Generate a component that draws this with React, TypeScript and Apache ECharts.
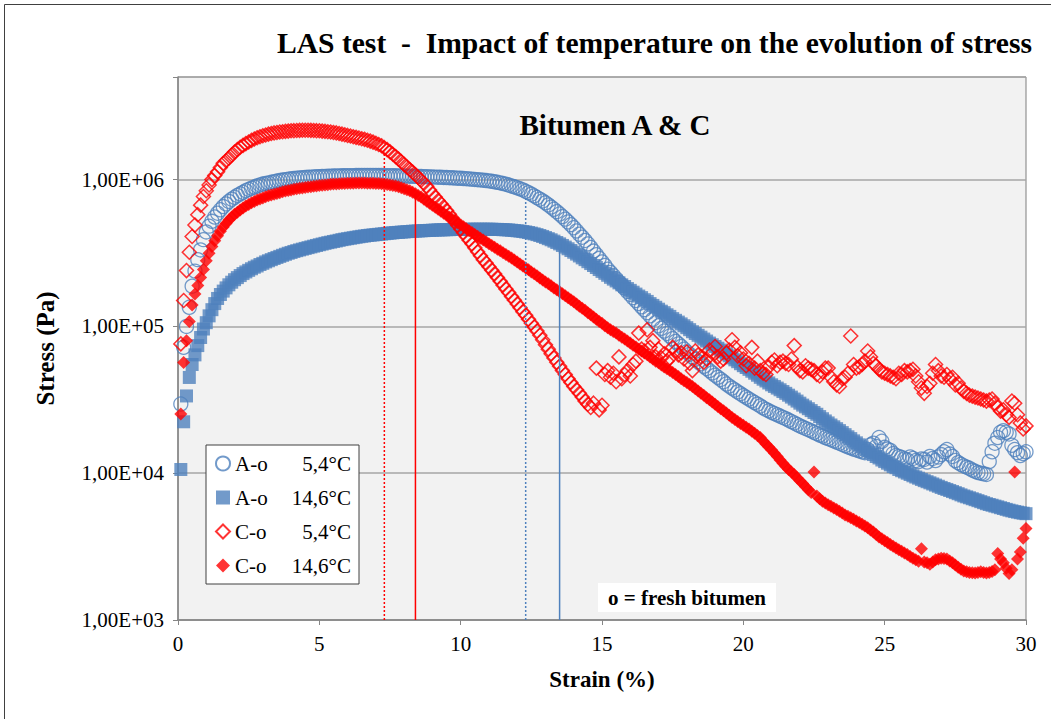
import React, { useEffect, useRef } from "react";
import * as echarts from "echarts";

const FONT = "Liberation Serif";
const BLUE = "#4f81bd";
const RED = "#ff0000";

// strain (%), 0.1 .. 30.0 — one row per unit of strain
const strain = [
  0.1, 0.2, 0.3, 0.4, 0.5, 0.6, 0.7, 0.8, 0.9, 1.0,
  1.1, 1.2, 1.3, 1.4, 1.5, 1.6, 1.7, 1.8, 1.9, 2.0,
  2.1, 2.2, 2.3, 2.4, 2.5, 2.6, 2.7, 2.8, 2.9, 3.0,
  3.1, 3.2, 3.3, 3.4, 3.5, 3.6, 3.7, 3.8, 3.9, 4.0,
  4.1, 4.2, 4.3, 4.4, 4.5, 4.6, 4.7, 4.8, 4.9, 5.0,
  5.1, 5.2, 5.3, 5.4, 5.5, 5.6, 5.7, 5.8, 5.9, 6.0,
  6.1, 6.2, 6.3, 6.4, 6.5, 6.6, 6.7, 6.8, 6.9, 7.0,
  7.1, 7.2, 7.3, 7.4, 7.5, 7.6, 7.7, 7.8, 7.9, 8.0,
  8.1, 8.2, 8.3, 8.4, 8.5, 8.6, 8.7, 8.8, 8.9, 9.0,
  9.1, 9.2, 9.3, 9.4, 9.5, 9.6, 9.7, 9.8, 9.9, 10.0,
  10.1, 10.2, 10.3, 10.4, 10.5, 10.6, 10.7, 10.8, 10.9, 11.0,
  11.1, 11.2, 11.3, 11.4, 11.5, 11.6, 11.7, 11.8, 11.9, 12.0,
  12.1, 12.2, 12.3, 12.4, 12.5, 12.6, 12.7, 12.8, 12.9, 13.0,
  13.1, 13.2, 13.3, 13.4, 13.5, 13.6, 13.7, 13.8, 13.9, 14.0,
  14.1, 14.2, 14.3, 14.4, 14.5, 14.6, 14.7, 14.8, 14.9, 15.0,
  15.1, 15.2, 15.3, 15.4, 15.5, 15.6, 15.7, 15.8, 15.9, 16.0,
  16.1, 16.2, 16.3, 16.4, 16.5, 16.6, 16.7, 16.8, 16.9, 17.0,
  17.1, 17.2, 17.3, 17.4, 17.5, 17.6, 17.7, 17.8, 17.9, 18.0,
  18.1, 18.2, 18.3, 18.4, 18.5, 18.6, 18.7, 18.8, 18.9, 19.0,
  19.1, 19.2, 19.3, 19.4, 19.5, 19.6, 19.7, 19.8, 19.9, 20.0,
  20.1, 20.2, 20.3, 20.4, 20.5, 20.6, 20.7, 20.8, 20.9, 21.0,
  21.1, 21.2, 21.3, 21.4, 21.5, 21.6, 21.7, 21.8, 21.9, 22.0,
  22.1, 22.2, 22.3, 22.4, 22.5, 22.6, 22.7, 22.8, 22.9, 23.0,
  23.1, 23.2, 23.3, 23.4, 23.5, 23.6, 23.7, 23.8, 23.9, 24.0,
  24.1, 24.2, 24.3, 24.4, 24.5, 24.6, 24.7, 24.8, 24.9, 25.0,
  25.1, 25.2, 25.3, 25.4, 25.5, 25.6, 25.7, 25.8, 25.9, 26.0,
  26.1, 26.2, 26.3, 26.4, 26.5, 26.6, 26.7, 26.8, 26.9, 27.0,
  27.1, 27.2, 27.3, 27.4, 27.5, 27.6, 27.7, 27.8, 27.9, 28.0,
  28.1, 28.2, 28.3, 28.4, 28.5, 28.6, 28.7, 28.8, 28.9, 29.0,
  29.1, 29.2, 29.3, 29.4, 29.5, 29.6, 29.7, 29.8, 29.9, 30.0,
];

// A-o 5,4°C (Pa)
const stressA54 = [
  29600, 72000, 100000, 135000, 188000, 238000, 285000, 332000, 390000, 440000,
  482000, 520000, 556000, 590000, 623000, 655000, 683000, 710000, 735000, 758000,
  780000, 800000, 820000, 840000, 858000, 875000, 890000, 905000, 919000, 932000,
  941000, 950000, 959000, 968000, 977000, 985000, 993000, 1000000, 1006000, 1012000,
  1017000, 1022000, 1026000, 1030000, 1034000, 1037000, 1040000, 1043000, 1046000, 1048000,
  1050000, 1052000, 1054000, 1056000, 1058000, 1059000, 1060000, 1061000, 1062000, 1063000,
  1064000, 1064000, 1065000, 1065000, 1066000, 1066000, 1066000, 1066000, 1066000, 1066000,
  1065000, 1065000, 1064000, 1064000, 1063000, 1062000, 1061000, 1060000, 1059000, 1058000,
  1056000, 1055000, 1053000, 1052000, 1050000, 1049000, 1047000, 1046000, 1044000, 1042000,
  1040000, 1038000, 1036000, 1034000, 1032000, 1030000, 1028000, 1025000, 1022000, 1020000,
  1017000, 1014000, 1011000, 1007000, 1003000, 999000, 995000, 990000, 985000, 980000,
  973000, 966000, 958000, 950000, 940000, 930000, 918000, 905000, 893000, 880000,
  865000, 850000, 833000, 815000, 795000, 775000, 755000, 735000, 715000, 695000,
  672000, 650000, 628000, 605000, 583000, 560000, 538000, 515000, 493000, 470000,
  447000, 425000, 405000, 385000, 365000, 345000, 326000, 308000, 291000, 275000,
  260000, 245000, 233000, 222000, 211000, 200000, 191000, 182000, 173000, 165000,
  157000, 150000, 143000, 136000, 130000, 124000, 118000, 112000, 106000, 101000,
  97000, 93000, 89500, 86000, 82500, 79000, 76000, 73000, 70000, 67000,
  64500, 62000, 59700, 57500, 55500, 53500, 51700, 50000, 48200, 46500,
  45000, 43500, 42000, 40500, 39200, 38000, 36900, 35800, 34800, 33800,
  32900, 32000, 31100, 30300, 29500, 28700, 27900, 27200, 26600, 26000,
  25500, 25000, 24500, 24000, 23500, 23000, 22500, 22000, 21500, 21000,
  20600, 20200, 19800, 19400, 19000, 18600, 18200, 17900, 17500, 17200,
  16900, 16600, 16300, 16000, 15700, 15400, 15100, 14900, 14600, 14400,
  14200, 14000, 13800, 14500, 15600, 16000, 15200, 17500, 16500, 15000,
  14600, 14300, 13600, 13200, 13000, 12800, 12500, 12300, 12900, 12600,
  12200, 12000, 12500, 12400, 11900, 13000, 12600, 12200, 12900, 13400,
  14000, 14500, 13500, 13000, 12200, 11800, 11500, 11200, 11000, 10800,
  10500, 10300, 10100, 10000, 9900, 9800, 12000, 14000, 16000, 17500,
  19000, 19500, 19000, 18500, 15500, 14500, 13800, 13200, 13600, 14000,
];

// A-o 14,6°C (Pa)
const stressA146 = [
  10600, 22400, 33600, 44900, 55000, 64000, 74000, 84000, 96000, 106000,
  118000, 130000, 143000, 155000, 165000, 174000, 183000, 192000, 200000, 208000,
  215000, 222000, 229000, 235000, 241000, 247000, 253000, 258000, 264000, 269000,
  275000, 280000, 285000, 290000, 295000, 300000, 305000, 310000, 315000, 319000,
  324000, 328000, 332000, 336000, 340000, 344000, 348000, 352000, 356000, 360000,
  364000, 368000, 372000, 375000, 379000, 382000, 386000, 390000, 393000, 396000,
  399000, 402000, 405000, 408000, 411000, 413000, 416000, 418000, 420000, 422000,
  424000, 426000, 428000, 430000, 432000, 434000, 436000, 437000, 439000, 440000,
  442000, 443000, 445000, 446000, 447000, 448000, 449000, 450000, 451000, 452000,
  453000, 454000, 455000, 455000, 456000, 456000, 457000, 457000, 458000, 458000,
  458000, 458000, 459000, 459000, 459000, 459000, 459000, 459000, 459000, 459000,
  459000, 458000, 458000, 457000, 456000, 455000, 454000, 452000, 450000, 448000,
  446000, 443000, 440000, 436000, 432000, 427000, 422000, 416000, 410000, 403000,
  396000, 389000, 381000, 373000, 365000, 356000, 347000, 338000, 329000, 320000,
  311000, 302000, 293000, 285000, 276000, 268000, 260000, 252000, 244000, 237000,
  230000, 223000, 216000, 210000, 204000, 198000, 192000, 187000, 181000, 176000,
  171000, 166000, 161000, 157000, 152000, 148000, 143000, 139000, 135000, 131000,
  127000, 124000, 120000, 117000, 113000, 110000, 107000, 104000, 101000, 98000,
  95000, 92000, 89500, 87000, 84500, 82000, 79500, 77000, 75000, 73000,
  71000, 69000, 67000, 65000, 63000, 61000, 59200, 57500, 55700, 54000,
  52500, 51000, 49500, 48000, 46500, 45000, 43700, 42500, 41200, 40000,
  39000, 38000, 37000, 36000, 35000, 34000, 33000, 32000, 31000, 30000,
  29100, 28300, 27500, 26700, 25900, 25200, 24300, 23500, 22700, 22000,
  21300, 20700, 20100, 19500, 18900, 18300, 17700, 17200, 16600, 16100,
  15600, 15100, 14600, 14200, 13800, 13400, 13000, 12700, 12300, 12000,
  11700, 11400, 11100, 10900, 10600, 10400, 10200, 10000, 9800, 9600,
  9420, 9250, 9070, 8900, 8750, 8600, 8450, 8300, 8150, 8000,
  7870, 7750, 7620, 7500, 7370, 7250, 7120, 7000, 6900, 6800,
  6700, 6600, 6500, 6400, 6300, 6200, 6120, 6050, 5970, 5900,
  5820, 5750, 5670, 5600, 5540, 5480, 5430, 5380, 5340, 5300,
];

// C-o 5,4°C (Pa)
const stressC54 = [
  76000, 150000, 240000, 320000, 410000, 490000, 577000, 670000, 768000, 840000,
  920000, 1000000, 1065000, 1130000, 1210000, 1290000, 1345000, 1400000, 1470000, 1540000,
  1600000, 1660000, 1710000, 1760000, 1805000, 1850000, 1890000, 1930000, 1960000, 1990000,
  2015000, 2040000, 2060000, 2080000, 2095000, 2110000, 2120000, 2130000, 2140000, 2150000,
  2155000, 2160000, 2165000, 2170000, 2170000, 2170000, 2165000, 2160000, 2155000, 2150000,
  2140000, 2130000, 2120000, 2110000, 2095000, 2080000, 2060000, 2040000, 2020000, 2000000,
  1980000, 1960000, 1940000, 1920000, 1900000, 1880000, 1855000, 1830000, 1800000, 1770000,
  1735000, 1700000, 1650000, 1600000, 1545000, 1490000, 1435000, 1380000, 1325000, 1270000,
  1220000, 1170000, 1125000, 1080000, 1035000, 990000, 945000, 900000, 850000, 800000,
  760000, 720000, 685000, 650000, 615000, 580000, 547000, 515000, 487000, 460000,
  435000, 410000, 387000, 365000, 343000, 322000, 303000, 285000, 270000, 255000,
  241000, 228000, 215000, 203000, 191000, 180000, 170000, 160000, 151000, 142000,
  134000, 126000, 119000, 112000, 105000, 99000, 93000, 87000, 81000, 75000,
  70000, 65000, 61000, 57000, 53500, 50000, 47000, 44000, 41500, 39000,
  37000, 35000, 33000, 31000, 29500, 28000, 30000, 52000, 27000, 29000,
  47000, 50000, 45000, 48000, 42000, 62000, 44000, 47000, 50000, 46000,
  55000, 58000, 90000, 70000, 68000, 95000, 72000, 80000, 62000, 70000,
  61000, 65000, 58000, 61000, 72000, 68000, 64000, 66000, 60000, 67000,
  56000, 50000, 68000, 64000, 62000, 57000, 60000, 69000, 66000, 73000,
  62000, 58000, 60000, 66000, 69000, 81000, 72000, 63000, 66000, 60000,
  54000, 56000, 72000, 52000, 58000, 50000, 48000, 47000, 53000, 57000,
  59000, 54000, 57000, 58000, 56000, 55000, 60000, 74000, 53000, 50000,
  49000, 54000, 52000, 51000, 50000, 47000, 46000, 49000, 52000, 52000,
  45000, 42000, 40000, 39000, 44000, 45000, 48000, 86000, 55000, 52000,
  53000, 55000, 58000, 68000, 62000, 56000, 54000, 51000, 49000, 48000,
  47000, 46000, 45000, 44000, 48000, 47000, 50000, 49000, 50000, 51000,
  46000, 42000, 38000, 35000, 39000, 41000, 48000, 55000, 50000, 46000,
  45000, 47000, 44000, 45000, 40000, 41000, 38000, 36000, 35000, 34000,
  33500, 33000, 32500, 32000, 31500, 31000, 31500, 32000, 30000, 28000,
  26500, 27000, 25000, 24000, 31000, 30000, 25000, 22000, 20000, 21000,
];

// C-o 14,6°C (Pa)
const stressC146 = [
  25300, 56800, 80000, 108000, 140000, 166000, 190000, 215000, 244000, 280000,
  315000, 350000, 383000, 415000, 445000, 475000, 503000, 530000, 555000, 580000,
  600000, 620000, 640000, 660000, 678000, 695000, 710000, 725000, 738000, 750000,
  763000, 775000, 785000, 795000, 805000, 815000, 825000, 835000, 843000, 850000,
  858000, 865000, 872000, 878000, 884000, 890000, 895000, 900000, 905000, 910000,
  915000, 920000, 924000, 928000, 932000, 935000, 938000, 940000, 942000, 944000,
  945000, 946000, 947000, 947000, 947000, 947000, 946000, 945000, 944000, 942000,
  939000, 936000, 931000, 926000, 919000, 912000, 903000, 893000, 881000, 868000,
  853000, 838000, 820000, 800000, 780000, 760000, 736000, 712000, 690000, 668000,
  648000, 628000, 609000, 590000, 572000, 555000, 538000, 522000, 507000, 492000,
  477000, 463000, 449000, 436000, 423000, 411000, 399000, 388000, 377000, 366000,
  356000, 346000, 336000, 327000, 318000, 309000, 300000, 292000, 283000, 275000,
  266000, 258000, 250000, 243000, 235000, 228000, 221000, 214000, 207000, 201000,
  195000, 189000, 183000, 178000, 172000, 167000, 162000, 157000, 152000, 147000,
  142000, 137000, 133000, 129000, 124000, 120000, 116000, 112000, 108000, 105000,
  101000, 98000, 95000, 92500, 90000, 87000, 84500, 82000, 79500, 77000,
  74500, 72400, 70000, 68000, 66000, 64000, 62000, 60000, 58000, 56500,
  54500, 53000, 51500, 50000, 48500, 47000, 45500, 44000, 42700, 41500,
  40200, 39000, 37600, 36300, 35100, 33900, 32700, 31600, 30500, 29500,
  28500, 27500, 26600, 25700, 24800, 24000, 23200, 22500, 21800, 21200,
  20600, 20000, 19300, 18700, 18100, 17500, 16600, 15800, 15100, 14400,
  13700, 13000, 12300, 11700, 11100, 10600, 10200, 9800, 9300, 8900,
  8500, 8100, 7700, 7400, 10200, 7000, 6700, 6450, 6270, 6100,
  5950, 5800, 5650, 5500, 5350, 5200, 5100, 4980, 4850, 4730,
  4610, 4490, 4370, 4250, 4110, 3980, 3820, 3670, 3570, 3470,
  3370, 3270, 3180, 3090, 3010, 2940, 2860, 2790, 2710, 2630,
  2570, 2510, 3060, 2480, 2450, 2400, 2480, 2570, 2600, 2630,
  2620, 2600, 2520, 2450, 2370, 2290, 2220, 2160, 2130, 2110,
  2100, 2090, 2110, 2130, 2110, 2090, 2110, 2140, 2200, 2840,
  2600, 2450, 2250, 2070, 2200, 10200, 2600, 2910, 3600, 4200,
];

const seriesNames = ["A-o 5,4°C", "A-o 14,6°C", "C-o 5,4°C", "C-o 14,6°C"];

// vertical marker lines (strain where each curve breaks down)
const peakStrain = [7.3, 8.4, 12.3, 13.5];
const peakStress = [1550000, 790000, 770000, 360000];
const peakColors = [RED, RED, BLUE, BLUE];
const peakDotted = [true, false, true, false];

const yMin = 1000;
const yMax = 5000000;

const rt = (size: number, bold = false) => ({
  fontFamily: FONT,
  fontSize: size,
  fontWeight: bold ? "bold" : "normal",
  color: "#000",
});

export default function App() {
  const ref = useRef<HTMLDivElement>(null);

  useEffect(() => {
    if (!ref.current) return;
    const chart = echarts.init(ref.current, null, { renderer: "svg" });
    const pair = (ys: number[]) => strain.map((x, i) => [x, ys[i]]);

    const scatter = [
      {
        name: seriesNames[0],
        type: "scatter",
        data: pair(stressA54),
        symbol: "circle",
        symbolSize: 14,
        itemStyle: { color: "rgba(255,255,255,0)", borderColor: BLUE, borderWidth: 1.3 },
        z: 2,
      },
      {
        name: seriesNames[1],
        type: "scatter",
        data: pair(stressA146),
        symbol: "rect",
        symbolSize: 13,
        itemStyle: { color: BLUE },
        z: 3,
      },
      {
        name: seriesNames[2],
        type: "scatter",
        data: pair(stressC54),
        symbol: "diamond",
        symbolSize: 14,
        itemStyle: { color: "rgba(255,255,255,0)", borderColor: RED, borderWidth: 1.5 },
        z: 4,
      },
      {
        name: seriesNames[3],
        type: "scatter",
        data: pair(stressC146),
        symbol: "diamond",
        symbolSize: 13,
        itemStyle: { color: RED },
        z: 5,
      },
    ];

    const lines = peakStrain.map((x, i) => ({
      name: "peak" + i,
      type: "line",
      data: [
        [x, yMin],
        [x, peakStress[i]],
      ],
      symbol: "none",
      silent: true,
      lineStyle: {
        color: peakColors[i],
        width: 1.5,
        type: peakDotted[i] ? [2, 2] : "solid",
      },
      z: 6,
    }));

    const isPow10 = (v: number) => {
      const l = Math.log10(v);
      return Math.abs(l - Math.round(l)) < 1e-6;
    };

    chart.setOption({
      animation: false,
      textStyle: { fontFamily: FONT, color: "#000" },
      title: [
        {
          text: "{t|LAS test  -  Impact of temperature on the evolution of stress}",
          right: 19,
          top: 28,
          padding: 0,
          textStyle: { fontFamily: FONT, rich: { t: rt(29.6, true) } },
        },
        {
          text: "{t|Bitumen A & C}",
          left: 615,
          top: 110,
          textAlign: "center",
          padding: 0,
          textStyle: { fontFamily: FONT, rich: { t: rt(29, true) } },
        },
        {
          text: "{t|o = fresh bitumen}",
          left: 598,
          top: 583,
          padding: [4, 10],
          backgroundColor: "#ffffff",
          textStyle: { fontFamily: FONT, rich: { t: rt(21, true) } },
        },
      ],
      graphic: [
        {
          type: "rect",
          silent: true,
          z: -10,
          shape: { x: 4.5, y: 4.5, width: 1100, height: 800 },
          style: { fill: "none", stroke: "#404040", lineWidth: 1 },
        },
      ],
      grid: {
        left: 178,
        right: 25,
        top: 77,
        bottom: 99,
        show: true,
        backgroundColor: "#f2f2f2",
        borderColor: "#7f7f7f",
        borderWidth: 1,
      },
      legend: {
        data: seriesNames,
        orient: "vertical",
        left: 206,
        top: 445,
        padding: [8, 8, 8, 9],
        itemGap: 13,
        itemWidth: 14,
        itemHeight: 14,
        backgroundColor: "#ffffff",
        borderColor: "#404040",
        borderWidth: 1,
        formatter: (name: string) => {
          const parts = name.split(" ");
          return `{a|${parts[0]}}{b|${parts[1]}}`;
        },
        textStyle: {
          fontFamily: FONT,
          fontSize: 21,
          color: "#000",
          rich: {
            a: { ...rt(21), width: 54 },
            b: { ...rt(21), width: 62, align: "right" },
          },
        },
      },
      xAxis: {
        type: "value",
        min: 0,
        max: 30,
        interval: 5,
        name: "{n|Strain (%)}",
        nameLocation: "middle",
        nameGap: 48,
        nameTextStyle: { fontFamily: FONT, rich: { n: rt(23, true) } },
        axisLine: { show: true, lineStyle: { color: "#868686", width: 1.5 } },
        axisTick: { show: true, length: 5, lineStyle: { color: "#868686" } },
        axisLabel: {
          margin: 13,
          formatter: (v: number) => `{v|${v}}`,
          rich: { v: rt(21) },
        },
        splitLine: { show: false },
      },
      yAxis: {
        type: "log",
        logBase: 10,
        min: yMin,
        max: yMax,
        name: "{n|Stress (Pa)}",
        nameLocation: "middle",
        nameGap: 120,
        nameTextStyle: { fontFamily: FONT, rich: { n: rt(25, true) } },
        axisLine: { show: true, lineStyle: { color: "#868686", width: 1.5 } },
        axisTick: { show: true, length: 5, lineStyle: { color: "#868686" } },
        axisLabel: {
          margin: 14,
          formatter: (v: number) => {
            if (!isPow10(v)) return "";
            const e = Math.round(Math.log10(v));
            return "{v|1,00E+" + String(e).padStart(2, "0") + "}";
          },
          rich: { v: rt(21) },
        },
        splitLine: { show: true, lineStyle: { color: "#a6a6a6", width: 1.5 } },
      },
      series: [...scatter, ...lines],
    });

    return () => chart.dispose();
  }, []);

  return (
    <div
      ref={ref}
      style={{ position: "fixed", left: 0, top: 0, width: 1051, height: 719, background: "#ffffff" }}
    />
  );
}
